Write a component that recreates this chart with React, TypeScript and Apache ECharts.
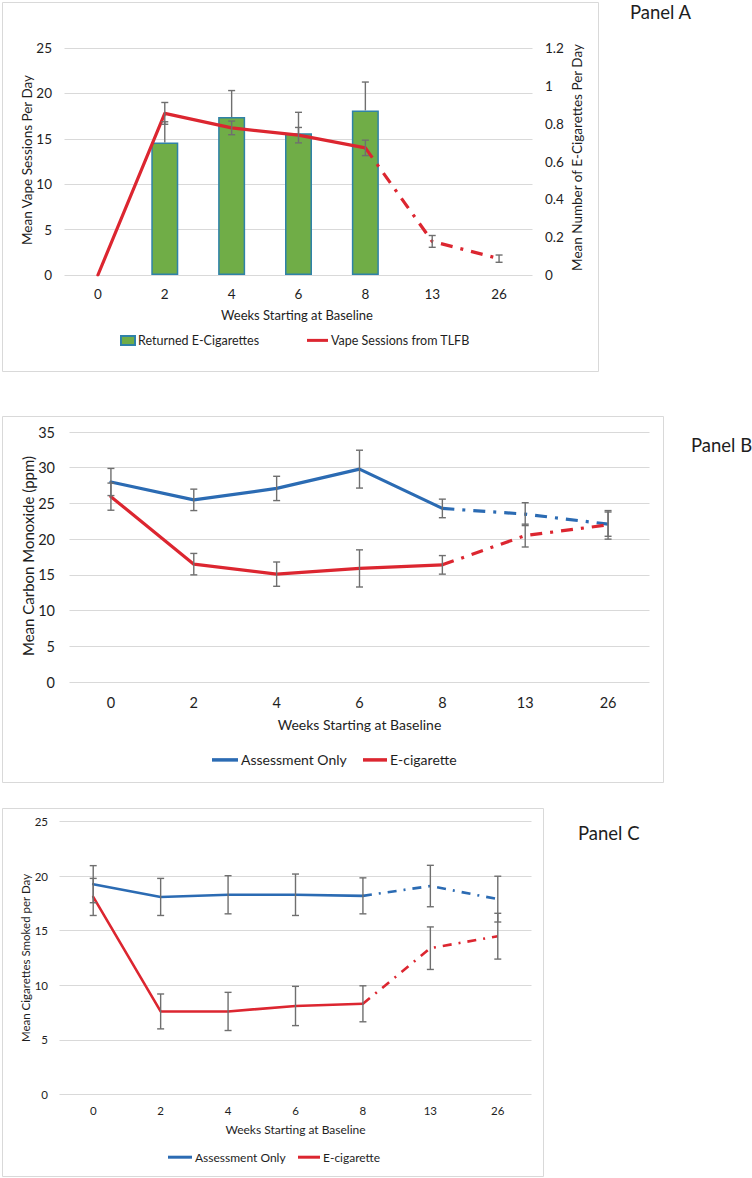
import React, { useEffect, useRef } from "react";
import * as echarts from "echarts";

// ---------- DATA ----------
const weeks = ["0", "2", "4", "6", "8", "13", "26"];

// Panel A
const returnedEcig = [null, 0.7, 0.835, 0.75, 0.87, null, null];
const returnedEcigErrPlus = [null, 0.11, 0.14, 0.11, 0.15, null, null];
const vapeSessions = [0, 17.8, 16.2, 15.4, 14.0, 3.7, 1.8];
const vapeSessionsErr = [null, 1.2, 0.75, 0.85, 0.85, 0.65, 0.4];

// Panel B
const coAssessment = [28.0, 25.5, 27.1, 29.8, 24.3, 23.5, 22.1];
const coAssessmentErr = [1.9, 1.5, 1.7, 2.65, 1.3, 1.6, 1.7];
const coEcig = [25.95, 16.5, 15.1, 15.9, 16.4, 20.5, 22.0];
const coEcigErr = [1.9, 1.5, 1.7, 2.6, 1.3, 1.6, 2.0];

// Panel C
const cpdAssessment = [19.27, 18.1, 18.3, 18.3, 18.2, 19.1, 17.9];
const cpdAssessmentErr = [1.7, 1.7, 1.75, 1.9, 1.65, 1.9, 2.1];
const cpdEcig = [18.1, 7.6, 7.6, 8.1, 8.3, 13.4, 14.5];
const cpdEcigErr = [1.7, 1.6, 1.75, 1.8, 1.65, 1.95, 2.1];

// ---------- STYLE ----------
const FONT = "Lato";
const TEXT = "#1e1e1e";
const GRID = "#d9d9d9";
const RED = "#dc2630";
const BLUE = "#2b6bb3";
const ERR = "#6f6f6f";
const GREEN = "#70ad47";
const BAR_BORDER = "#2f82a8";

const LAST_SOLID = 4;
const solidPart = (arr: (number | null)[]) => arr.map((v, i) => (i <= LAST_SOLID ? v : null));
const dashPart = (arr: (number | null)[]) => arr.map((v, i) => (i >= LAST_SOLID ? v : null));

const errData = (vals: (number | null)[], errs: (number | null)[]) =>
  vals
    .map((v, i) => (v == null || errs[i] == null ? null : [i, v - (errs[i] as number), v + (errs[i] as number)]))
    .filter((d) => d != null);
const errPlusData = (vals: (number | null)[], errs: (number | null)[]) =>
  vals
    .map((v, i) => (v == null || errs[i] == null ? null : [i, v, v + (errs[i] as number)]))
    .filter((d) => d != null);

const errRender = (capLow: boolean) => (params: any, api: any) => {
  const i = api.value(0);
  const lo = api.coord([i, api.value(1)]);
  const hi = api.coord([i, api.value(2)]);
  const w = 3.5;
  const style = { stroke: ERR, lineWidth: 1.4 };
  const children: any[] = [
    { type: "line", shape: { x1: hi[0], y1: lo[1], x2: hi[0], y2: hi[1] }, style },
    { type: "line", shape: { x1: hi[0] - w, y1: hi[1], x2: hi[0] + w, y2: hi[1] }, style },
  ];
  if (capLow) children.push({ type: "line", shape: { x1: lo[0] - w, y1: lo[1], x2: lo[0] + w, y2: lo[1] }, style });
  return { type: "group", children };
};

const errSeries = (name: string, xi: number, yi: number, data: any[], capLow = true) => ({
  type: "custom",
  name,
  xAxisIndex: xi,
  yAxisIndex: yi,
  data,
  encode: { x: 0, y: [1, 2] },
  renderItem: errRender(capLow),
  z: 5,
  silent: true,
});

const lineSeries = (
  name: string,
  xi: number,
  yi: number,
  data: (number | null)[],
  color: string,
  width: number,
  dash: number[] | null
) => ({
  type: "line",
  name,
  xAxisIndex: xi,
  yAxisIndex: yi,
  data,
  color,
  showSymbol: false,
  symbol: "none",
  connectNulls: false,
  lineStyle: { color, width, type: dash ? dash : "solid", cap: dash ? "butt" : "round", join: "round" },
  itemStyle: { color },
  z: 4,
});

const xAxisFor = (gi: number, fontSize: number, margin: number) => ({
  type: "category",
  gridIndex: gi,
  data: weeks,
  boundaryGap: true,
  axisLine: { show: false },
  axisTick: { show: false },
  axisLabel: { fontSize, color: TEXT, margin, fontFamily: FONT },
});

const yAxisFor = (gi: number, max: number, fontSize: number, margin: number) => ({
  type: "value",
  gridIndex: gi,
  min: 0,
  max,
  interval: 5,
  axisLine: { show: false },
  axisTick: { show: false },
  axisLabel: { fontSize, color: TEXT, margin, fontFamily: FONT },
  splitLine: { show: true, lineStyle: { color: GRID, width: 1 } },
});

const vText = (text: string, x: number, y: number, fontSize: number) => ({
  type: "text",
  x,
  y,
  rotation: Math.PI / 2,
  style: { text, fontSize, fontFamily: FONT, fill: TEXT, align: "center", verticalAlign: "middle" },
  silent: true,
});
const hText = (text: string, x: number, y: number, fontSize: number, align = "center") => ({
  type: "text",
  x,
  y,
  style: { text, fontSize, fontFamily: FONT, fill: TEXT, align, verticalAlign: "middle" },
  silent: true,
});
const box = (x: number, y: number, w: number, h: number) => ({
  type: "rect",
  shape: { x: x + 0.5, y: y + 0.5, width: w, height: h },
  style: { fill: "none", stroke: GRID, lineWidth: 1 },
  silent: true,
  z: -10,
});

const legendFor = (name: string, left: number, centerY: number, fontSize: number, iw: number, ih: number) => ({
  data: [{ name, icon: "rect" }],
  left,
  top: centerY - fontSize * 0.65,
  padding: 0,
  itemWidth: iw,
  itemHeight: ih,
  itemGap: 0,
  selectedMode: false,
  textStyle: { fontSize, color: TEXT, fontFamily: FONT, padding: [0, 0, 0, -2] },
});

export default function App() {
  const ref = useRef<HTMLDivElement>(null);
  useEffect(() => {
    if (!ref.current) return;
    const chart = echarts.init(ref.current, null, { renderer: "svg" });
    const option: any = {
      animation: false,
      textStyle: { fontFamily: FONT },
      grid: [
        { left: 64.5, top: 48, width: 468, height: 227 },
        { left: 69.5, top: 432, width: 580, height: 250 },
        { left: 59.5, top: 821.7, width: 472, height: 272.6 },
      ],
      xAxis: [xAxisFor(0, 13.5, 12), xAxisFor(1, 14.5, 12.5), xAxisFor(2, 11.5, 10.5)],
      yAxis: [
        yAxisFor(0, 25, 13.5, 12.5),
        {
          type: "value",
          gridIndex: 0,
          position: "right",
          min: 0,
          max: 1.2,
          interval: 0.2,
          axisLine: { show: false },
          axisTick: { show: false },
          splitLine: { show: false },
          axisLabel: {
            fontSize: 13.5,
            color: TEXT,
            margin: 12.5,
            fontFamily: FONT,
            formatter: (v: number) => String(Math.round(v * 10) / 10),
          },
        },
        yAxisFor(1, 35, 14.5, 14.5),
        yAxisFor(2, 25, 11.5, 11.5),
      ],
      legend: [
        legendFor("Returned E-Cigarettes", 120, 342, 12.5, 14, 9),
        legendFor("Vape Sessions from TLFB", 307, 342, 12.5, 21, 3),
        legendFor("Assessment Only", 212, 762, 14, 26, 3.5),
        legendFor("E-cigarette", 363, 762, 14, 24, 3.5),
        legendFor("Assessment Only", 168, 1159, 12, 24, 3),
        legendFor("E-cigarette", 298, 1159, 12, 22, 3),
      ],
      series: [
        // Panel A
        {
          type: "bar",
          name: "Returned E-Cigarettes",
          xAxisIndex: 0,
          yAxisIndex: 1,
          data: returnedEcig,
          barWidth: 27,
          itemStyle: { color: GREEN, borderColor: BAR_BORDER, borderWidth: 1.5 },
          z: 2,
        },
        errSeries("errBarA", 0, 1, errPlusData(returnedEcig, returnedEcigErrPlus), false),
        lineSeries("Vape Sessions from TLFB", 0, 0, solidPart(vapeSessions), RED, 3.2, null),
        lineSeries("Vape Sessions from TLFB", 0, 0, dashPart(vapeSessions), RED, 3.2, [12, 8, 3, 8]),
        errSeries("errLineA", 0, 0, errData(vapeSessions, vapeSessionsErr)),
        // Panel B
        lineSeries("Assessment Only", 1, 2, solidPart(coAssessment), BLUE, 3.2, null),
        lineSeries("Assessment Only", 1, 2, dashPart(coAssessment), BLUE, 3.2, [12, 8, 3, 8]),
        lineSeries("E-cigarette", 1, 2, solidPart(coEcig), RED, 3.2, null),
        lineSeries("E-cigarette", 1, 2, dashPart(coEcig), RED, 3.2, [12, 8, 3, 8]),
        errSeries("errB1", 1, 2, errData(coAssessment, coAssessmentErr)),
        errSeries("errB2", 1, 2, errData(coEcig, coEcigErr)),
        // Panel C
        lineSeries("Assessment Only", 2, 3, solidPart(cpdAssessment), BLUE, 2.6, null),
        lineSeries("Assessment Only", 2, 3, dashPart(cpdAssessment), BLUE, 2.6, [9, 7, 2, 7]),
        lineSeries("E-cigarette", 2, 3, solidPart(cpdEcig), RED, 2.6, null),
        lineSeries("E-cigarette", 2, 3, dashPart(cpdEcig), RED, 2.6, [9, 7, 2, 7]),
        errSeries("errC1", 2, 3, errData(cpdAssessment, cpdAssessmentErr)),
        errSeries("errC2", 2, 3, errData(cpdEcig, cpdEcigErr)),
      ],
      graphic: [
        box(2, 2, 596, 369),
        box(2, 416, 661, 366),
        box(2, 808, 541, 368),
        hText("Panel A", 630, 12, 18.5, "left"),
        hText("Panel B", 691, 445, 18.5, "left"),
        hText("Panel C", 578, 833, 18.5, "left"),
        vText("Mean Vape Sessions Per Day", 27, 160, 13.5),
        vText("Mean Number of E-Cigarettes Per Day", 577, 157.5, 13.5),
        hText("Weeks Starting at Baseline", 297, 315, 13),
        vText("Mean Carbon Monoxide (ppm)", 28, 556, 15),
        hText("Weeks Starting at Baseline", 359.5, 724, 14),
        vText("Mean Cigarettes Smoked per Day", 25, 958, 11.5),
        hText("Weeks Starting at Baseline", 295.5, 1129, 12),
      ],
    };
    chart.setOption(option);
    return () => chart.dispose();
  }, []);
  return (
    <div
      ref={ref}
      style={{ position: "absolute", left: 0, top: 0, width: 752, height: 1178, background: "#ffffff" }}
    />
  );
}
